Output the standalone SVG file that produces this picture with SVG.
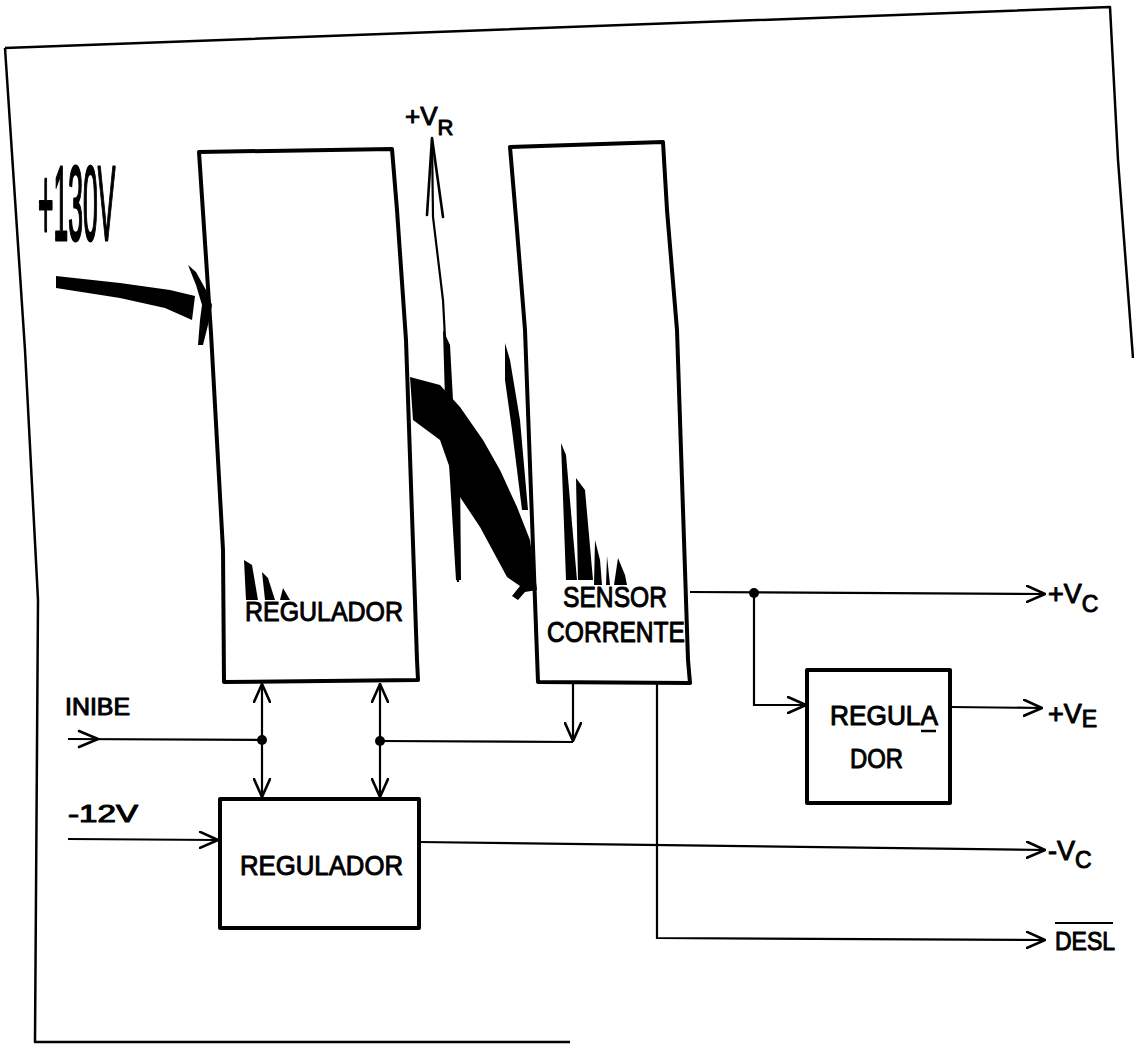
<svg xmlns="http://www.w3.org/2000/svg" width="1134" height="1051" viewBox="0 0 1134 1051">
<style>
.box{fill:none;stroke:#000;stroke-width:4;stroke-linejoin:round}
.ln{fill:none;stroke:#000;stroke-width:2.2}
.ah{fill:none;stroke:#000;stroke-width:2.6;stroke-linecap:round;stroke-linejoin:round}
.frame{fill:none;stroke:#000;stroke-width:2.5;stroke-linejoin:round}
.t{font-family:"Liberation Sans",Arial,sans-serif;fill:#000;stroke:#000;stroke-width:1;stroke-linejoin:round}
.blk{fill:#000;stroke:none}
</style>
<defs>
<marker id="arr" viewBox="0 0 20 18" refX="19" refY="9" markerWidth="20" markerHeight="18" markerUnits="userSpaceOnUse" orient="auto-start-reverse">
<path d="M1,1 L19,9 L1,17" fill="none" stroke="#000" stroke-width="2.6" stroke-linecap="round" stroke-linejoin="round"/>
</marker>
</defs>

<g id="frame">
<path class="frame" d="M5,48 L1110,7 L1118,160 L1133,358"/>
<path class="frame" d="M5,48 L25,350 L38,600 L35,1042 L570,1042"/>
</g>

<g id="regulador-principal">
<path class="box" d="M199,152 L392,149 L397,210 L406,340 L417,660 L418,680 L224,682 L223,550 L211,333 Z"/>
<text class="t" x="245" y="621" font-size="28" textLength="158" lengthAdjust="spacingAndGlyphs">REGULADOR</text>
</g>

<g id="sensor-corrente">
<path class="box" d="M510,147 L663,142 L667,210 L677,330 L688,660 L690,683 L538,682 L525,330 L517,230 Z"/>
<text class="t" x="563" y="607" font-size="29" textLength="104" lengthAdjust="spacingAndGlyphs">SENSOR</text>
<text class="t" x="547" y="642" font-size="29" textLength="138" lengthAdjust="spacingAndGlyphs">CORRENTE</text>
</g>

<g id="regulador-12v">
<path class="box" d="M220,799 L419,799 L419,928 L220,928 Z"/>
<text class="t" x="240" y="875" font-size="28" textLength="163" lengthAdjust="spacingAndGlyphs">REGULADOR</text>
</g>

<g id="regulador-ve">
<path class="box" d="M807,670 L950,670 L950,803 L807,803 Z"/>
<text class="t" x="830" y="725" font-size="27" textLength="108" lengthAdjust="spacingAndGlyphs">REGULA</text>
<line x1="921" y1="731" x2="936" y2="731" stroke="#000" stroke-width="2.5"/>
<text class="t" x="850" y="768" font-size="27" textLength="53" lengthAdjust="spacingAndGlyphs">DOR</text>
</g>

<g id="labels">
<text class="t" transform="translate(38,240) scale(0.25,1)" font-size="106" style="stroke-width:3">+130V</text>
<text class="t" x="405" y="125" font-size="26">+V<tspan font-size="22" dy="10">R</tspan></text>
<text class="t" x="65" y="715" font-size="23" textLength="65" lengthAdjust="spacingAndGlyphs">INIBE</text>
<text class="t" x="68" y="822" font-size="23" textLength="70" lengthAdjust="spacingAndGlyphs">-12V</text>
<text class="t" x="1048" y="603" font-size="27">+V<tspan font-size="23" dy="9">C</tspan></text>
<text class="t" x="1048" y="723" font-size="27">+V<tspan font-size="23" dy="4">E</tspan></text>
<text class="t" x="1048" y="860" font-size="27">-V<tspan font-size="23" dy="8">C</tspan></text>
<text class="t" x="1055" y="950" font-size="25" textLength="60" lengthAdjust="spacingAndGlyphs">DESL</text>
<line x1="1055" y1="923" x2="1113" y2="923" stroke="#000" stroke-width="2.2"/>
</g>

<g id="connectors">
<!-- +130V input (smeared) -->
<path class="blk" d="M56,276 L120,283 L170,290 L195,296 L192,320 L165,308 L120,298 L56,288 Z"/>
<path class="blk" d="M188,265 L196,272 L206,290 L212,305 L208,325 L203,345 L198,345 L200,320 L202,305 L196,285 Z"/>
<!-- regulator to sensor (smeared) -->
<path class="blk" d="M410,377 L440,385 L460,407 L483,440 L500,470 L517,507 L530,540 L537,590 L525,592 L518,600 L512,596 L520,586 L507,577 L480,527 L460,497 L440,440 L413,420 Z"/>
<!-- +VR -->
<path class="ln" d="M458,582 L443,300 L433,217 L432,140"/>
<path class="ah" d="M427,215 L432,138 L443,217"/>
<!-- INIBE -->
<path class="ln" d="M68,739 L262,740"/>
<path class="ah" d="M79,731 L98,739 L79,747"/>
<!-- -12V -->
<path class="ln" marker-end="url(#arr)" d="M68,839 L218,840"/>
<!-- bidirectional links -->
<path class="ln" marker-start="url(#arr)" marker-end="url(#arr)" d="M262,684 L262,797"/>
<path class="ln" marker-start="url(#arr)" marker-end="url(#arr)" d="M380,684 L380,797"/>
<path class="ln" d="M380,741 L573,742"/>
<path class="ln" marker-end="url(#arr)" d="M573,684 L573,741"/>
<!-- outputs -->
<path class="ln" marker-end="url(#arr)" d="M690,592 L1045,594"/>
<path class="ln" marker-end="url(#arr)" d="M754,593 L754,705 L806,705"/>
<path class="ln" marker-end="url(#arr)" d="M950,707 L1042,708"/>
<path class="ln" marker-end="url(#arr)" d="M419,842 L1045,850"/>
<path class="ln" marker-end="url(#arr)" d="M657,684 L657,938 L1045,940"/>
<circle cx="262" cy="740" r="5"/>
<circle cx="380" cy="741" r="5"/>
<circle cx="754" cy="593" r="5"/>
</g>

<g id="scan-artifacts">
<path class="blk" d="M244,560 L252,565 L258,600 L246,600 Z"/>
<path class="blk" d="M262,572 L268,578 L275,600 L265,600 Z"/>
<path class="blk" d="M283,588 L290,600 L280,600 Z"/>
<path class="blk" d="M443,330 L450,345 L453,400 L460,470 L461,580 L456,580 L450,480 L445,400 Z"/>
<path class="blk" d="M505,343 L510,360 L520,420 L528,510 L522,510 L512,430 L505,380 Z"/>
<path class="blk" d="M561,443 L566,455 L577,580 L566,580 Z"/>
<path class="blk" d="M576,478 L585,490 L593,580 L578,580 Z"/>
<path class="blk" d="M595,540 L600,560 L602,585 L594,585 Z"/>
<path class="blk" d="M607,556 L610,585 L606,585 Z"/>
<path class="blk" d="M618,558 L625,575 L627,585 L614,585 Z"/>
</g>
</svg>
